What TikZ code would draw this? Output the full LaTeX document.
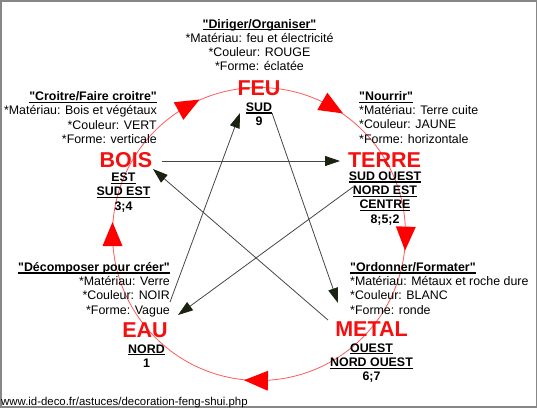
\documentclass[tikz,border=0pt]{standalone}
\usepackage{fontspec}
\setmainfont{Liberation Sans}[Ligatures=TeXOff]
\usetikzlibrary{arrows.meta}
\definecolor{circred}{RGB}{255,90,90}
\definecolor{linegray}{RGB}{70,70,70}
\definecolor{tipdark}{RGB}{25,35,15}
\definecolor{framegray}{RGB}{135,135,135}
\definecolor{elemred}{RGB}{245,15,15}
\newcommand\myul[1]{\leavevmode\setbox0=\hbox{#1}\rlap{\rule[-2.4pt]{\wd0}{1.2pt}}\box0}
\begin{document}
\begin{tikzpicture}[x=1pt,y=-1pt,
  body/.style={font=\fontsize{12.4}{14.3}\selectfont, inner sep=0pt},
  elem/.style={font=\fontsize{21.5}{24}\selectfont\bfseries, text=elemred, inner sep=0pt, anchor=base},
  dirs/.style={font=\fontsize{12.4}{14.3}\selectfont\bfseries, align=center, inner sep=0pt, anchor=base},
  conn/.style={draw=linegray, line width=0.8pt, -{Triangle[length=15pt,width=10pt,fill=tipdark,color=tipdark]}},
  circ/.style={draw=circred, line width=0.8pt}]
\useasboundingbox (0,0) rectangle (537,408);
\draw[framegray, line width=1.5pt] (0.75,0.75) rectangle (536.25,406.75);

% cycle circle
\draw[circ] (259,234) circle [radius=146.5pt];
\foreach \a in {180,118.5,59.8,-1.8,-91.2}{
  \pgfmathsetmacro\rax{259+146.5*cos(\a)+12*sin(\a)}
  \pgfmathsetmacro\ray{234-146.5*sin(\a)+12*cos(\a)}
  \pgfmathsetmacro\rbx{259+146.5*cos(\a)-12*sin(\a)+10*cos(\a)}
  \pgfmathsetmacro\rby{234-146.5*sin(\a)-12*cos(\a)-10*sin(\a)}
  \pgfmathsetmacro\rcx{259+146.5*cos(\a)-12*sin(\a)-10*cos(\a)}
  \pgfmathsetmacro\rcy{234-146.5*sin(\a)-12*cos(\a)+10*sin(\a)}
  \fill[red] (\rax,\ray) -- (\rbx,\rby) -- (\rcx,\rcy) -- cycle;
}

% FEU (base anchor = baseline of last line)
\node[body, align=center, anchor=base] (feuT) at (259.5,70.9) {\myul{\textbf{"Diriger/Organiser"}}\\{}*Matériau: feu et électricité\\{}*Couleur: ROUGE\\{}*Forme: éclatée};
\node[elem] (feu) at (259,95) {FEU};
\node[dirs] (feuD) at (259,125.5) {\myul{SUD}\\9};

% BOIS
\node[body, align=right, anchor=base east] (boisT) at (157,143.4) {\myul{\textbf{"Croitre/Faire croitre"}}\\{}*Matériau: Bois et végétaux\\{}*Couleur: VERT\\{}*Forme: verticale};
\node[elem] (bois) at (126,167) {BOIS};
\node[dirs] (boisD) at (123.5,210) {\myul{EST}\\\myul{SUD EST}\\3;4};

% TERRE
\node[body, align=left, anchor=base west] (terreT) at (359,143.2) {\myul{\textbf{"Nourrir"}}\\{}*Matériau: Terre cuite\\{}*Couleur: JAUNE\\{}*Forme: horizontale};
\node[elem] (terre) at (384.5,167) {TERRE};
\node[dirs] (terreD) at (385,223) {\myul{SUD OUEST}\\\myul{NORD EST}\\\myul{CENTRE}\\8;5;2};

% EAU
\node[body, align=right, anchor=base east] (eauT) at (170,314) {\myul{\textbf{"Décomposer pour créer"}}\\{}*Matériau: Verre\\{}*Couleur: NOIR\\{}*Forme: Vague};
\node[elem] (eau) at (145,337) {EAU};
\node[dirs] (eauD) at (146.5,367.3) {\myul{NORD}\\1};

% METAL
\node[body, align=left, anchor=base west] (metalT) at (350,314) {\myul{\textbf{"Ordonner/Formater"}}\\{}*Matériau: Métaux et roche dure\\{}*Couleur: BLANC\\{}*Forme: ronde};
\node[elem] (metal) at (371.5,336) {METAL};
\node[dirs] (metalD) at (371.5,380.6) {\myul{OUEST}\\\myul{NORD OUEST}\\6;7};

% URL
\node[font=\fontsize{11.4}{13}\selectfont, inner sep=0pt, anchor=base west] (url) at (1,405) {www.id-deco.fr/astuces/decoration-feng-shui.php};

% connector ends
\coordinate (feuIn) at (240,113);
\coordinate (feuOut) at (272,113);
\coordinate (terreIn) at (340,161);
\coordinate (terreOut) at (353,187);
\coordinate (metalIn) at (338,303);
\coordinate (metalOut) at (328,320);
\coordinate (eauIn) at (178,315);
\coordinate (eauOut) at (170,302);
\coordinate (boisIn) at (153,169);
\coordinate (boisOut) at (162,161);

\draw[conn] (boisOut) -- (terreIn);
\draw[conn] (terreOut) -- (eauIn);
\draw[conn] (eauOut) -- (feuIn);
\draw[conn] (feuOut) -- (metalIn);
\draw[conn] (metalOut) -- (boisIn);
\end{tikzpicture}
\end{document}
